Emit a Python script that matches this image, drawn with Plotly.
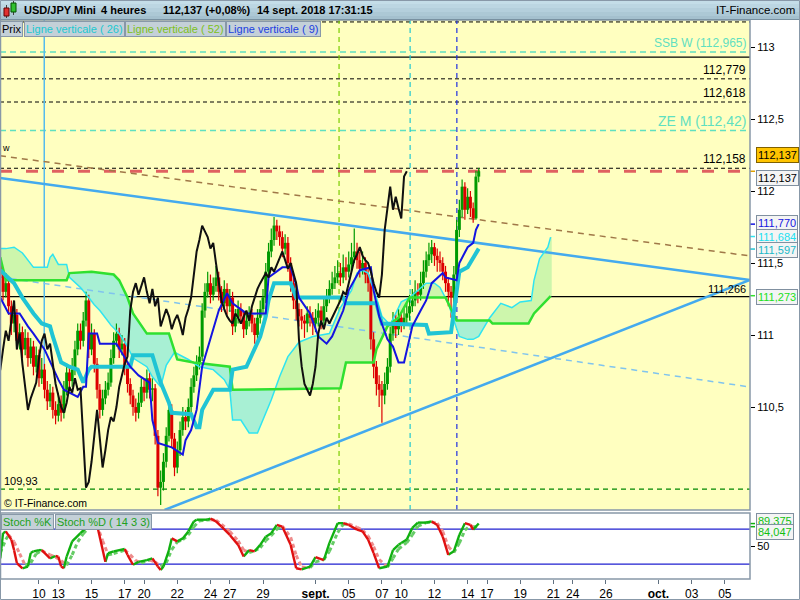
import datetime as dt
import numpy as np
import plotly.graph_objects as go

# ---------------- data (bar index = 4h bar; chart read by eye) ----------------
bars = list(range(11, 185))
first_open = 111.48
closes = [111.42, 111.30, 111.36, 111.20, 111.08, 111.14, 110.96, 111.02, 110.90, 110.98,
          110.84, 110.92, 110.78, 110.86, 110.70, 110.76, 110.62, 110.54, 110.60, 110.48,
          110.44, 110.52, 110.46, 110.62, 110.74, 110.68, 110.76, 110.90, 111.03, 110.96,
          111.10, 111.24, 110.90, 111.01, 110.80, 110.62, 110.48, 110.56, 110.62, 110.67,
          110.84, 110.96, 111.01, 110.90, 110.94, 110.78, 110.66, 110.58, 110.50, 110.46,
          110.53, 110.64, 110.60, 110.70, 110.62, 110.63, 110.30, 109.94, 109.98, 110.12,
          110.30, 110.48, 110.28, 110.08, 110.20, 110.34, 110.43, 110.40, 110.50, 110.64,
          110.72, 110.80, 110.85, 111.17, 111.30, 111.36, 111.28, 111.34, 111.40, 111.30,
          111.22, 111.32, 111.20, 111.26, 111.06, 111.12, 111.18, 111.13, 111.04, 111.10,
          111.14, 111.08, 111.00, 111.12, 111.18, 111.26, 111.44, 111.58, 111.66, 111.76,
          111.72, 111.68, 111.60, 111.64, 111.50, 111.36, 111.24, 111.18, 111.13, 111.10,
          111.08, 111.15, 111.12, 111.08, 111.12, 111.17, 111.10, 111.20, 111.26, 111.32,
          111.36, 111.40, 111.43, 111.40, 111.47, 111.44, 111.49, 111.54, 111.58, 111.52,
          111.46, 111.50, 111.42, 111.36, 110.97, 110.78, 110.66, 110.62, 110.58, 110.66,
          110.78, 111.01, 111.10, 111.04, 111.12, 111.08, 111.12, 111.15, 111.20, 111.24,
          111.30, 111.28, 111.36, 111.44, 111.52, 111.56, 111.61, 111.55, 111.52, 111.50,
          111.44, 111.36, 111.30, 111.26, 111.42, 111.73, 111.87, 112.03, 111.87, 111.96,
          111.88, 111.81, 112.10, 112.137]
highs = [111.54, 111.47, 111.43, 111.40, 111.24, 111.22, 111.18, 111.08, 111.06, 111.04,
         111.02, 110.98, 110.96, 110.92, 110.90, 110.84, 110.80, 110.68, 110.66, 110.64,
         110.54, 110.60, 110.58, 110.68, 110.80, 110.78, 110.84, 110.96, 111.08, 111.08,
         111.16, 111.30, 111.28, 111.08, 111.04, 110.84, 110.66, 110.62, 110.68, 110.74,
         110.90, 111.02, 111.08, 111.05, 111.00, 110.98, 110.82, 110.70, 110.62, 110.56,
         110.60, 110.70, 110.70, 110.76, 110.74, 110.70, 110.66, 110.34, 110.06, 110.18,
         110.36, 110.54, 110.52, 110.32, 110.26, 110.40, 110.50, 110.48, 110.56, 110.70,
         110.78, 110.86, 110.92, 111.22, 111.36, 111.44, 111.42, 111.40, 111.48, 111.44,
         111.34, 111.38, 111.36, 111.32, 111.30, 111.18, 111.24, 111.22, 111.16, 111.16,
         111.20, 111.18, 111.12, 111.18, 111.24, 111.32, 111.50, 111.64, 111.74, 111.82,
         111.80, 111.76, 111.72, 111.70, 111.68, 111.54, 111.40, 111.28, 111.22, 111.18,
         111.14, 111.20, 111.20, 111.16, 111.18, 111.22, 111.20, 111.26, 111.32, 111.38,
         111.44, 111.48, 111.52, 111.50, 111.56, 111.54, 111.58, 111.64, 111.74, 111.64,
         111.58, 111.58, 111.54, 111.46, 111.40, 111.02, 110.82, 110.72, 110.68, 110.74,
         110.84, 111.06, 111.16, 111.14, 111.18, 111.16, 111.18, 111.22, 111.28, 111.32,
         111.38, 111.36, 111.44, 111.52, 111.58, 111.64, 111.66, 111.64, 111.60, 111.58,
         111.54, 111.48, 111.40, 111.34, 111.48, 111.80, 111.94, 112.08, 112.06, 112.02,
         112.00, 111.92, 112.14, 112.16]
lows = [111.36, 111.24, 111.26, 111.14, 111.00, 111.02, 110.90, 110.90, 110.84, 110.86,
        110.78, 110.80, 110.72, 110.74, 110.64, 110.66, 110.56, 110.48, 110.50, 110.42,
        110.38, 110.40, 110.40, 110.42, 110.58, 110.62, 110.64, 110.72, 110.86, 110.90,
        110.92, 111.06, 110.84, 110.86, 110.74, 110.56, 110.42, 110.44, 110.52, 110.58,
        110.64, 110.80, 110.92, 110.84, 110.86, 110.72, 110.60, 110.52, 110.44, 110.40,
        110.42, 110.50, 110.54, 110.56, 110.56, 110.54, 110.24, 109.88, 109.82, 109.92,
        110.08, 110.26, 110.22, 110.02, 110.04, 110.16, 110.30, 110.34, 110.36, 110.46,
        110.60, 110.68, 110.76, 110.82, 111.12, 111.26, 111.22, 111.24, 111.30, 111.24,
        111.16, 111.18, 111.14, 111.16, 111.00, 111.02, 111.08, 111.08, 110.98, 111.00,
        111.06, 111.02, 110.94, 110.96, 111.08, 111.14, 111.22, 111.40, 111.54, 111.62,
        111.66, 111.62, 111.54, 111.56, 111.44, 111.30, 111.18, 111.10, 111.06, 111.04,
        110.98, 111.02, 111.06, 111.00, 111.02, 111.06, 111.04, 111.06, 111.16, 111.22,
        111.28, 111.32, 111.36, 111.34, 111.36, 111.38, 111.40, 111.44, 111.50, 111.46,
        111.40, 111.42, 111.36, 111.30, 110.90, 110.70, 110.58, 110.50, 110.39, 110.52,
        110.62, 110.74, 110.96, 110.98, 111.00, 111.02, 111.04, 111.08, 111.10, 111.16,
        111.20, 111.22, 111.24, 111.32, 111.40, 111.48, 111.50, 111.48, 111.44, 111.44,
        111.38, 111.30, 111.20, 111.12, 111.22, 111.38, 111.68, 111.82, 111.80, 111.84,
        111.82, 111.78, 111.80, 112.06]
opens = [first_open] + closes[:-1]

tenkan_bars = [11, 14, 18, 21, 23, 27, 32, 34, 39, 41, 42, 43, 46, 47, 53, 58, 61, 65, 66, 68,
               73, 77, 78, 80, 82, 84, 88, 90, 93, 95, 100, 107, 108, 113, 116, 118, 119, 123, 126, 129,
               131, 135, 137, 141, 145, 146, 148, 151, 153, 155, 157, 158, 160, 163, 165, 167, 171, 172, 176, 177,
               180, 182, 183, 184]
tenkan_vals = [111.26, 111.15, 111.15, 111.06, 111.01, 110.90, 110.69, 110.62, 110.57, 110.64,
               110.64, 111.01, 111.01, 110.94, 110.94, 110.78, 110.72, 110.67, 110.41, 110.25,
               110.22, 110.17, 110.27, 110.34, 110.48, 110.78, 111.04, 111.17, 111.29, 111.22,
               111.15, 111.15, 111.40, 111.47, 111.47, 111.35, 111.26, 111.15, 110.99, 110.94,
               110.99, 111.17, 111.31, 111.45, 111.47, 111.31, 111.13, 110.97, 110.92, 110.81,
               110.81, 110.90, 111.06, 111.17, 111.24, 111.36, 111.43, 111.40, 111.38, 111.50,
               111.61, 111.64, 111.73, 111.77]
kijun_bars = [11, 16, 19, 23, 26, 29, 30, 33, 36, 39, 41, 43, 44, 58, 59, 66, 69, 72, 73, 80,
              82, 83, 84, 88, 94, 95, 100, 105, 107, 108, 110, 116, 118, 135, 136, 147, 149, 165, 166, 174,
              176, 177, 180, 181, 183, 184]
kijun_vals = [111.45, 111.36, 111.26, 111.15, 111.08, 111.06, 110.99, 110.81, 110.78, 110.76,
              110.67, 110.76, 110.78, 110.78, 110.86, 110.86, 110.67, 110.53, 110.46, 110.45,
              110.36, 110.36, 110.48, 110.62, 110.62, 110.76, 110.78, 110.99, 111.13, 111.24,
              111.36, 111.36, 111.26, 111.26, 111.22, 111.22, 111.08, 111.07, 111.01, 111.02,
              111.30, 111.44, 111.47, 111.50, 111.57, 111.60]
ssa_bars = [11, 13, 16, 19, 23, 28, 29, 30, 32, 35, 36, 40, 43, 45, 47, 51, 54, 57, 59, 64,
            66, 69, 71, 74, 79, 83, 88, 92, 94, 95, 98, 101, 104, 106, 107, 109, 112, 115, 117, 119,
            124, 128, 130, 132, 134, 138, 140, 142, 144, 145, 147, 149, 152, 156, 159, 165, 168, 170, 173, 175,
            177, 180, 182, 184, 186, 188, 192, 196, 199, 203, 204, 206, 209, 210]
ssa_vals = [111.60, 111.60, 111.61, 111.57, 111.47, 111.47, 111.54, 111.56, 111.49, 111.49,
            111.40, 111.33, 111.26, 111.21, 111.17, 111.07, 111.01, 110.92, 110.84, 110.78,
            110.71, 110.64, 110.79, 110.88, 110.83, 110.78, 110.76, 110.69, 110.62, 110.41,
            110.41, 110.32, 110.32, 110.41, 110.46, 110.55, 110.71, 110.85, 110.90, 110.95,
            110.99, 111.00, 111.01, 111.10, 111.19, 111.31, 111.43, 111.45, 111.43, 111.37,
            111.26, 111.13, 111.07, 111.23, 111.26, 111.36, 111.36, 111.33, 111.22, 111.10,
            110.99, 110.97, 110.97, 110.99, 111.06, 111.12, 111.22, 111.19, 111.23, 111.24,
            111.38, 111.53, 111.61, 111.68]
ssb_bars = [11, 13, 35, 36, 44, 52, 54, 57, 59, 64, 72, 75, 81, 94, 95, 134, 136, 146, 147, 151,
            155, 159, 172, 176, 188, 189, 202, 204, 210]
ssb_vals = [111.54, 111.38, 111.38, 111.43, 111.44, 111.42, 111.38, 111.26, 111.15, 111.01,
            111.01, 110.83, 110.81, 110.78, 110.62, 110.63, 110.81, 110.81, 110.90, 111.06,
            111.12, 111.26, 111.26, 111.10, 111.10, 111.08, 111.08, 111.15, 111.27]
chikou_shift = 26

stk_bars = [11, 12, 13, 15, 16, 17, 19, 21, 22, 23, 25, 26, 29, 31, 32, 33, 34, 35, 37, 40,
            42, 43, 46, 49, 50, 52, 56, 57, 59, 61, 64, 66, 68, 69, 70, 72, 73, 75, 77, 79,
            81, 82, 86, 87, 89, 91, 94, 97, 99, 101, 103, 105, 107, 109, 111, 113, 116, 118, 120, 123,
            125, 128, 130, 133, 135, 137, 140, 142, 144, 146, 148, 151, 153, 155, 156, 158, 160, 162, 165, 167,
            169, 171, 173, 175, 177, 179, 181, 182, 184]
stk_vals = [30, 73, 76, 62, 44, 22, 13, 16, 39, 42, 44, 44, 30, 34, 33, 16, 13, 33, 59, 73,
            82, 86, 87, 24, 39, 42, 46, 36, 19, 24, 27, 30, 16, 10, 16, 44, 64, 59, 64, 76,
            93, 96, 96, 98, 93, 84, 70, 53, 33, 44, 42, 53, 67, 73, 87, 84, 53, 13, 11, 16,
            32, 27, 56, 90, 90, 87, 79, 76, 62, 39, 13, 16, 44, 53, 56, 62, 82, 91, 91, 93,
            87, 67, 36, 42, 70, 90, 87, 79, 89.375]
std_bars = [11, 13, 14, 16, 18, 20, 22, 24, 26, 29, 31, 33, 35, 37, 39, 41, 43, 46, 48, 50,
            52, 56, 58, 60, 62, 65, 67, 69, 71, 73, 75, 77, 79, 81, 83, 87, 89, 91, 94, 97,
            99, 101, 103, 105, 107, 109, 111, 113, 116, 118, 120, 123, 125, 128, 130, 133, 135, 137, 140, 142,
            144, 146, 148, 151, 153, 155, 158, 160, 162, 165, 167, 169, 171, 173, 175, 177, 179, 181, 182, 184]
std_vals = [40, 62, 70, 58, 38, 18, 22, 38, 43, 36, 32, 26, 18, 36, 58, 72, 82, 86, 60, 36,
            38, 44, 36, 26, 22, 27, 24, 16, 22, 45, 58, 62, 70, 84, 94, 96, 95, 88, 76, 60,
            44, 40, 43, 48, 60, 69, 80, 85, 66, 35, 15, 14, 24, 28, 42, 74, 88, 89, 83, 78,
            68, 50, 28, 15, 30, 46, 57, 70, 85, 91, 92, 90, 76, 50, 40, 56, 78, 86, 84, 84.047]

last_price = 112.137
levels_black_dash = [113.174, 112.779, 112.618, 112.158]
levels_black_solid = [112.93, 111.266]
levels_aqua = [112.965, 112.42]
level_green = 109.93
trend_upper = ([10.9, 282.1], [112.090, 111.382])
trend_lower = ([70.4, 282.1], [109.785, 111.382])
trend_brown = ([10.9, 282.1], [112.245, 111.549])
trend_lightdash = ([10.9, 282.1], [111.403, 110.639])
vline_solid = (26.9, 110.76)
vlines_dashed = [(133.5, "#7ccc00"), (159.2, "#20c8d0"), (176.1, "#2030e0")]

tick_labels = ["10", "13", "15", "17", "20", "22", "24", "27", "29", "<b>sept.</b>", "05", "07",
               "10", "12", "14", "17", "19", "21", "24", "26", "<b>oct.</b>", "03", "05"]
tick_dates = ["2018-08-10", "2018-08-13", "2018-08-15", "2018-08-17", "2018-08-20", "2018-08-22",
              "2018-08-24", "2018-08-27", "2018-08-29", "2018-09-03", "2018-09-05", "2018-09-07",
              "2018-09-10", "2018-09-12", "2018-09-14", "2018-09-17", "2018-09-19", "2018-09-21",
              "2018-09-24", "2018-09-26", "2018-10-01", "2018-10-03", "2018-10-05"]

# ---------------- helpers ----------------
X_LO, X_HI = 10.9, 282.1
Y_LO, Y_HI = 109.785, 113.1875
FONT = "Liberation Sans, Arial, sans-serif"
base_monday = dt.date(2018, 8, 6)


def bar_of(date_str):
    d = (dt.date.fromisoformat(date_str) - base_monday).days
    return (d // 7) * 31 + 1 + (d % 7) * 6


def fx(px):
    return px / 800.0


def fy(py):
    return 1 - py / 600.0


tick_vals = [bar_of(s) for s in tick_dates]

fig = go.Figure()

# ---- Ichimoku cloud fill ----
grid = np.arange(11, 210.51, 0.2)
a = np.interp(grid, ssa_bars, ssa_vals)
b = np.interp(grid, ssb_bars, ssb_vals)
sgn = a >= b
runs = []
s0 = 0
for i in range(1, len(grid)):
    if sgn[i] != sgn[s0]:
        runs.append((s0, i))
        s0 = i
runs.append((s0, len(grid) - 1))
for s, e in runs:
    xs = list(grid[s:e + 1])
    poly_x = xs + xs[::-1]
    poly_y = list(a[s:e + 1]) + list(b[s:e + 1][::-1])
    fig.add_trace(go.Scatter(x=poly_x, y=poly_y, mode="lines", fill="toself",
                             fillcolor="#CDF6AC" if sgn[s] else "#A8F0D4",
                             line=dict(width=0), hoverinfo="skip"))

# ---- trend lines ----
for (xx, yy), col, wd, dash in [(trend_lightdash, "#80c4ee", 1.5, "6px,5px"),
                                (trend_brown, "#a07848", 1.5, "6px,5px"),
                                (trend_upper, "#44aaee", 2.5, "solid"),
                                (trend_lower, "#44aaee", 2.5, "solid")]:
    fig.add_trace(go.Scatter(x=xx, y=yy, mode="lines", line=dict(color=col, width=wd, dash=dash),
                             hoverinfo="skip"))

# ---- candles ----
def seg(idx, y0, y1):
    xs, ys = [], []
    for i in idx:
        xs += [bars[i], bars[i], None]
        ys += [y0[i], y1[i], None]
    return xs, ys


up = [i for i in range(len(bars)) if closes[i] >= opens[i]]
dn = [i for i in range(len(bars)) if closes[i] < opens[i]]
for idx, col in [(up, "#009a00"), (dn, "#dd0000")]:
    wx, wy = seg(idx, lows, highs)
    fig.add_trace(go.Scatter(x=wx, y=wy, mode="lines", line=dict(color=col, width=1.2), hoverinfo="skip"))
    bx, by = seg(idx, opens, closes)
    fig.add_trace(go.Scatter(x=bx, y=by, mode="lines", line=dict(color=col, width=3), hoverinfo="skip"))

# ---- ichimoku lines ----
fig.add_trace(go.Scatter(x=ssa_bars, y=ssa_vals, mode="lines", line=dict(color="#30e4f0", width=1.5), hoverinfo="skip"))
fig.add_trace(go.Scatter(x=ssb_bars, y=ssb_vals, mode="lines", line=dict(color="#30e030", width=2.5), hoverinfo="skip"))
fig.add_trace(go.Scatter(x=kijun_bars, y=kijun_vals, mode="lines", line=dict(color="#20c4d4", width=4), hoverinfo="skip"))
fig.add_trace(go.Scatter(x=tenkan_bars, y=tenkan_vals, mode="lines", line=dict(color="#1414e0", width=2), hoverinfo="skip"))
fig.add_trace(go.Scatter(x=[bb - chikou_shift for bb in bars], y=closes, mode="lines",
                         line=dict(color="#101010", width=2), hoverinfo="skip"))

# ---- stochastic ----
def dir_segments(xv, yv):
    ux, uy, dx_, dy_ = [], [], [], []
    for i in range(len(xv) - 1):
        if yv[i + 1] >= yv[i]:
            ux += [xv[i], xv[i + 1], None]
            uy += [yv[i], yv[i + 1], None]
        else:
            dx_ += [xv[i], xv[i + 1], None]
            dy_ += [yv[i], yv[i + 1], None]
    return ux, uy, dx_, dy_


ux, uy, dx_, dy_ = dir_segments(std_bars, std_vals)
fig.add_trace(go.Scatter(x=ux, y=uy, xaxis="x2", yaxis="y2", mode="lines",
                         line=dict(color="#66cc66", width=3, dash="4px,3px"), hoverinfo="skip"))
fig.add_trace(go.Scatter(x=dx_, y=dy_, xaxis="x2", yaxis="y2", mode="lines",
                         line=dict(color="#ee8c8c", width=3, dash="4px,3px"), hoverinfo="skip"))
ux, uy, dx_, dy_ = dir_segments(stk_bars, stk_vals)
fig.add_trace(go.Scatter(x=ux, y=uy, xaxis="x2", yaxis="y2", mode="lines",
                         line=dict(color="#10b010", width=2.4), hoverinfo="skip"))
fig.add_trace(go.Scatter(x=dx_, y=dy_, xaxis="x2", yaxis="y2", mode="lines",
                         line=dict(color="#e01010", width=2.4), hoverinfo="skip"))

# ---------------- shapes ----------------
shapes = []
shapes.append(dict(type="rect", xref="paper", yref="paper", x0=0, x1=fx(750), y0=fy(510), y1=fy(20),
                   fillcolor="#FFFFC0", line=dict(width=0), layer="below"))
for lv in levels_black_dash:
    shapes.append(dict(type="line", xref="x domain", yref="y", x0=0, x1=1, y0=lv, y1=lv,
                       line=dict(color="black", width=1, dash="4px,3px"), layer="below"))
for lv in levels_black_solid:
    shapes.append(dict(type="line", xref="x domain", yref="y", x0=0, x1=1, y0=lv, y1=lv,
                       line=dict(color="black", width=1.2), layer="below"))
for lv in levels_aqua:
    shapes.append(dict(type="line", xref="x domain", yref="y", x0=0, x1=1, y0=lv, y1=lv,
                       line=dict(color="#5fe0c0", width=1.5, dash="6px,4px"), layer="below"))
shapes.append(dict(type="line", xref="x domain", yref="y", x0=0, x1=1, y0=level_green, y1=level_green,
                   line=dict(color="#008800", width=1.2, dash="5px,4px"), layer="below"))
shapes.append(dict(type="line", xref="x domain", yref="y", x0=0, x1=1, y0=last_price, y1=last_price,
                   line=dict(color="#e06060", width=3, dash="12px,14px"), layer="below"))
shapes.append(dict(type="line", xref="x", yref="y", x0=vline_solid[0], x1=vline_solid[0],
                   y0=vline_solid[1], y1=Y_HI, line=dict(color="#55bbee", width=1.5), layer="below"))
for xb, col in vlines_dashed:
    shapes.append(dict(type="line", xref="x", yref="y domain", x0=xb, x1=xb, y0=0, y1=1,
                       line=dict(color=col, width=1.2, dash="5px,4px"), layer="below"))
for lv in [80, 20]:
    shapes.append(dict(type="line", xref="x2 domain", yref="y2", x0=0, x1=1, y0=lv, y1=lv,
                       line=dict(color="#2020d0", width=1.2), layer="below"))
for val, col in [(112.137, "#e0a000"), (111.770, "#1414e0"), (111.684, "#30e4f0"),
                 (111.597, "#20c4d4"), (111.273, "#30e030")]:
    shapes.append(dict(type="line", xref="paper", yref="y", x0=fx(750), x1=fx(755), y0=val, y1=val,
                       line=dict(color=col, width=1.5)))
for val in [89.375, 84.047]:
    shapes.append(dict(type="line", xref="paper", yref="y2", x0=fx(750), x1=fx(755), y0=val, y1=val,
                       line=dict(color="#10b010", width=1.5)))
shapes.append(dict(type="rect", xref="paper", yref="paper", x0=fx(0.5), x1=fx(750), y0=fy(510), y1=fy(20),
                   line=dict(color="#8898a8", width=1.5)))
shapes.append(dict(type="rect", xref="paper", yref="paper", x0=fx(0.5), x1=fx(750), y0=fy(579), y1=fy(513),
                   line=dict(color="#8898a8", width=1.5)))
hdr_cols = ["#c4dde8", "#bcd6e2", "#b4cfdc", "#acc8d5", "#a4c0ce"]
for k, col in enumerate(hdr_cols):
    shapes.append(dict(type="rect", xref="paper", yref="paper", x0=0, x1=1,
                       y0=fy(4 * (k + 1)), y1=fy(4 * k), fillcolor=col, line=dict(width=0)))
shapes.append(dict(type="line", xref="paper", yref="paper", x0=0, x1=1, y0=fy(19.5), y1=fy(19.5),
                   line=dict(color="#7890a0", width=1)))
shapes.append(dict(type="line", xref="paper", yref="paper", x0=fx(6.5), x1=fx(6.5), y0=fy(18), y1=fy(5),
                   line=dict(color="#404040", width=1)))
shapes.append(dict(type="rect", xref="paper", yref="paper", x0=fx(4), x1=fx(9), y0=fy(16), y1=fy(8),
                   fillcolor="#e03030", line=dict(color="#600000", width=1)))
shapes.append(dict(type="line", xref="paper", yref="paper", x0=fx(13.5), x1=fx(13.5), y0=fy(15), y1=fy(1),
                   line=dict(color="#404040", width=1)))
shapes.append(dict(type="rect", xref="paper", yref="paper", x0=fx(11), x1=fx(16), y0=fy(12), y1=fy(3),
                   fillcolor="#30c030", line=dict(color="#005000", width=1)))
shapes.append(dict(type="rect", xref="paper", yref="paper", x0=fx(0.5), x1=fx(799.5), y0=fy(599.5), y1=fy(0.5),
                   line=dict(color="#8898a8", width=1)))

# ---------------- annotations ----------------
ann = []


def text(x, y, s, size=11, color="black", xanchor="left", yanchor="middle", xref="paper", yref="paper",
         bg=None, border=None, bold=False):
    d = dict(x=x, y=y, xref=xref, yref=yref, text=("<b>%s</b>" % s) if bold else s, showarrow=False,
             xanchor=xanchor, yanchor=yanchor, font=dict(family=FONT, size=size, color=color))
    if bg:
        d.update(bgcolor=bg, bordercolor=border or bg, borderwidth=1, borderpad=1)
    return d


ann.append(text(fx(22), fy(10), "USD/JPY Mini", 11, bold=True))
ann.append(text(fx(99), fy(10), "4 heures", 11, bold=True))
ann.append(text(fx(161), fy(10), "112,137 (+0,08%)", 11, bold=True))
ann.append(text(fx(255), fy(10), "14 sept. 2018 17:31:15", 11, bold=True))
ann.append(text(fx(797), fy(10), "IT-Finance.com", 11.5, xanchor="right"))
for xpx, s, col in [(0, "Prix", "black"), (24, "Ligne verticale ( 26)", "#20c8d0"),
                    (125, "Ligne verticale ( 52)", "#7cc020"), (226, "Ligne verticale ( 9)", "#2040e0")]:
    ann.append(text(fx(xpx), fy(20.5), s, 11, col, yanchor="top", bg="#c4d0d8", border="#8898a8"))
for xpx, s in [(0, "Stoch %K"), (54, "Stoch %D ( 14 3 3)")]:
    ann.append(text(fx(xpx + 0.5), fy(513.5), s, 11, "#20a020", yanchor="top", bg="#c4d0d8", border="#8898a8"))
ann.append(text(fx(748), levels_aqua[0], "SSB W (112,965)", 12, "#5fe0c0", xanchor="right", yanchor="bottom", yref="y"))
ann.append(text(fx(748), levels_aqua[1], "ZE M (112,42)", 14, "#5fe0c0", xanchor="right", yanchor="bottom", yref="y"))
for lv, s in [(112.779, "112,779"), (112.618, "112,618"), (112.158, "112,158")]:
    ann.append(text(fx(748), lv, s, 12, xanchor="right", yanchor="bottom", yref="y"))
ann.append(text(fx(748), 111.266, "111,266", 11, xanchor="right", yanchor="bottom", yref="y"))
ann.append(text(fx(2), level_green, "109,93", 11, yanchor="bottom", yref="y"))
ann.append(text(fx(2), fy(503), "© IT-Finance.com", 10.5))
ann.append(text(fx(0), fy(148), "w", 9))
ann.append(text(fx(756), 112.247, "112,137", 11, "black", yref="y", bg="#ffc400", border="#806000"))
ann.append(text(fx(756), 112.092, "112,137", 11, "black", yref="y", bg="#f4f4f4", border="#8090a0"))
ann.append(text(fx(756), 111.778, "111,770", 11, "#1414e0", yref="y", bg="#f4f4f4", border="#8090a0"))
ann.append(text(fx(756), 111.683, "111,684", 11, "#20e0f0", yref="y", bg="#f4f4f4", border="#8090a0"))
ann.append(text(fx(756), 111.590, "111,597", 11, "#20b8c8", yref="y", bg="#f4f4f4", border="#8090a0"))
ann.append(text(fx(756), 111.266, "111,273", 11, "#20e020", yref="y", bg="#f4f4f4", border="#8090a0"))
ann.append(text(fx(756), 93.3, "89,375", 11, "#10c010", yref="y2", bg="#f4f4f4", border="#8090a0"))
ann.append(text(fx(756), 75.3, "84,047", 11, "#10c010", yref="y2", bg="#f4f4f4", border="#8090a0"))

fig.update_layout(
    width=800, height=600, margin=dict(l=0, r=0, t=0, b=0),
    paper_bgcolor="white", plot_bgcolor="rgba(0,0,0,0)", showlegend=False,
    font=dict(family=FONT, size=11, color="black"),
    xaxis=dict(domain=[0, 0.9375], range=[X_LO, X_HI], showticklabels=False, showgrid=False,
               zeroline=False, anchor="y", ticks=""),
    yaxis=dict(domain=[fy(510), fy(20)], range=[Y_LO, Y_HI], side="right", anchor="x",
               tickvals=[110.5, 111, 111.5, 112, 112.5, 113],
               ticktext=["110,5", "111", "111,5", "112", "112,5", "113"],
               ticks="outside", ticklen=4, tickcolor="black", showgrid=False, zeroline=False,
               tickfont=dict(size=11, color="black")),
    xaxis2=dict(domain=[0, 0.9375], range=[X_LO, X_HI], anchor="y2", tickvals=tick_vals,
                ticktext=tick_labels, ticks="outside", ticklen=4, tickcolor="#607080",
                showgrid=False, zeroline=False, tickfont=dict(size=12, color="black")),
    yaxis2=dict(domain=[fy(579), fy(513)], range=[-5.3, 107.4], side="right", anchor="x2",
                tickvals=[50], ticktext=["50"], ticks="outside", ticklen=4, tickcolor="black",
                showgrid=False, zeroline=False, tickfont=dict(size=11, color="black")),
    shapes=shapes, annotations=ann,
)

fig.write_html("out.html", config={"displayModeBar": False},
               post_script="document.body.style.margin='0px';document.body.style.overflow='hidden';")
